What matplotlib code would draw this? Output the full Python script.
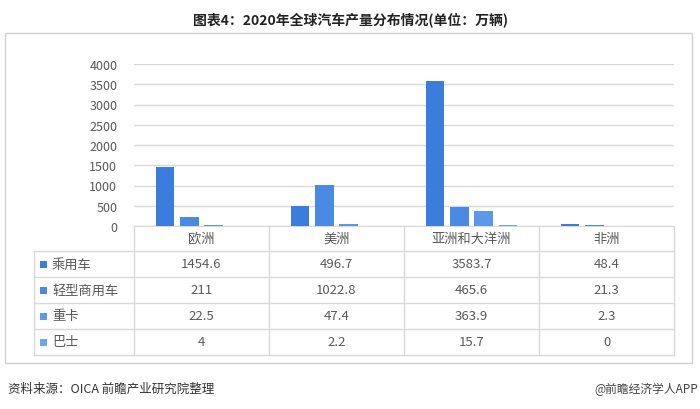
import numpy as np
import matplotlib
matplotlib.use("Agg")
import matplotlib.pyplot as plt
from matplotlib.patches import Rectangle

plt.rcParams['font.family'] = ['Noto Sans CJK SC', 'DejaVu Sans']

# ---------------------------------------------------------
# DATA
# ---------------------------------------------------------
regions = ["欧洲", "美洲", "亚洲和大洋洲", "非洲"]
series_names = ["乘用车", "轻型商用车", "重卡", "巴士"]
passenger = [1454.6, 496.7, 3583.7, 48.4]
light_commercial = [211, 1022.8, 465.6, 21.3]
heavy_truck = [22.5, 47.4, 363.9, 2.3]
bus = [4, 2.2, 15.7, 0]
y_ticks = [0, 500, 1000, 1500, 2000, 2500, 3000, 3500, 4000]

series_vals = [passenger, light_commercial, heavy_truck, bus]
colors = ["#3b7ddd", "#4a8ae3", "#5b98ea", "#6ca6ef"]
grid_c = "#d9d9d9"
txt_c = "#595959"

W, H = 700, 410
fig = plt.figure(figsize=(7, 4.1), dpi=100)

# overlay in pixel coordinates (y from top)
ov = fig.add_axes([0, 0, 1, 1], zorder=0)
ov.set_xlim(0, W)
ov.set_ylim(H, 0)
ov.axis("off")

# chart area
x_left, x_right = 134, 674
y_top, y_bot = 65, 227
ax = fig.add_axes([x_left / W, (H - y_bot) / H, (x_right - x_left) / W, (y_bot - y_top) / H], zorder=2)
ax.set_facecolor("none")

x = np.arange(len(regions))
step, width = 0.18, 0.137
for i, vals in enumerate(series_vals):
    ax.bar(x + (i - 1.5) * step, vals, width, color=colors[i], zorder=3)

ax.set_xlim(-0.5, len(regions) - 0.5)
ax.set_ylim(0, 4000)
ax.set_yticks(y_ticks)
ax.set_yticklabels([str(t) for t in y_ticks], fontsize=9, color=txt_c)
ax.set_xticks([])
ax.yaxis.grid(True, color=grid_c, linewidth=1, zorder=0)
ax.tick_params(axis="y", length=0, pad=12)
for s in ["top", "right", "left"]:
    ax.spines[s].set_visible(False)
ax.spines["bottom"].set_color(grid_c)

# title
ov.text(W / 2, 20, "图表4：2020年全球汽车产量分布情况(单位：万辆)", ha="center", va="center",
        fontsize=10, fontweight="bold", color="#222222")

# outer frame
ov.add_patch(Rectangle((5, 34), 687, 330, fill=False, edgecolor="#d0d0d0", linewidth=1))

# data table
col_edges = [x_left + k * (x_right - x_left) / len(regions) for k in range(len(regions) + 1)]
row_edges = [252, 278, 304, 330, 356]
tab_left = 34
for xe in col_edges:
    ov.plot([xe, xe], [y_bot, row_edges[-1]], color=grid_c, linewidth=1)
ov.plot([tab_left, tab_left], [row_edges[0], row_edges[-1]], color=grid_c, linewidth=1)
for ye in row_edges:
    ov.plot([tab_left, x_right], [ye, ye], color=grid_c, linewidth=1)

for j, name in enumerate(regions):
    cx = (col_edges[j] + col_edges[j + 1]) / 2
    ov.text(cx, (y_bot + row_edges[0]) / 2, name, ha="center", va="center", fontsize=9.5, color=txt_c)

for i, (name, vals) in enumerate(zip(series_names, series_vals)):
    cy = (row_edges[i] + row_edges[i + 1]) / 2
    ov.add_patch(Rectangle((40, cy - 3.5), 7, 7, color=colors[i], linewidth=0))
    ov.text(52, cy, name, ha="left", va="center", fontsize=9.5, color=txt_c)
    for j, v in enumerate(vals):
        cx = (col_edges[j] + col_edges[j + 1]) / 2
        ov.text(cx, cy, f"{v:g}", ha="center", va="center", fontsize=9.5, color=txt_c)

# footer
ov.text(8, 389, "资料来源：OICA 前瞻产业研究院整理", ha="left", va="center", fontsize=9, color="#333333")
ov.text(W - 2, 389, "@前瞻经济学人APP", ha="right", va="center", fontsize=8.5, color="#444444")

fig.savefig("out.png", dpi=100)
